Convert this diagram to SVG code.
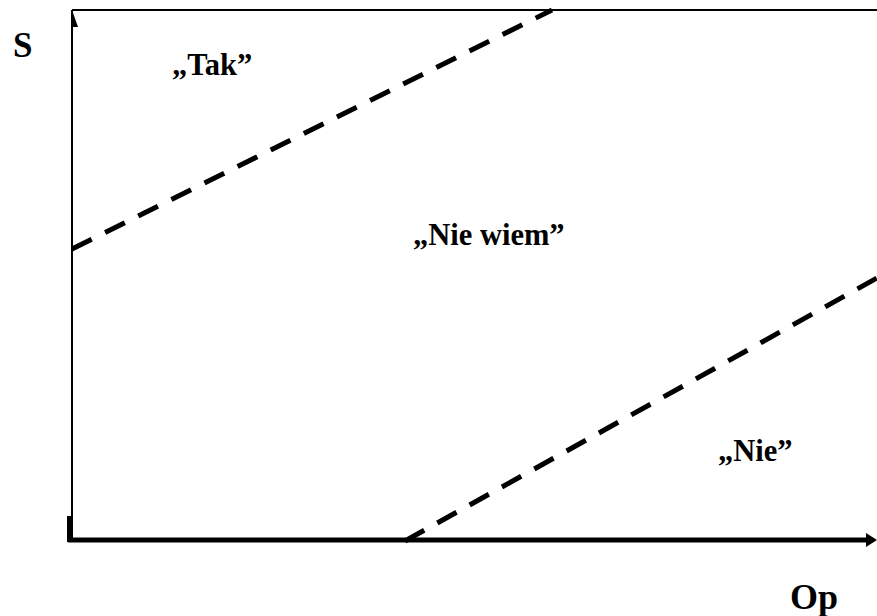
<svg xmlns="http://www.w3.org/2000/svg" width="877" height="616" viewBox="0 0 877 616">
<style>
text{font-family:"Liberation Serif","Times New Roman",serif;font-weight:bold;fill:#000}
.lbl{font-size:30.5px}
.dash{stroke:#000;stroke-width:5;stroke-dasharray:22 15;fill:none}
</style>
<rect width="877" height="616" fill="#fff"/>
<g id="frame">
<line x1="72" y1="10" x2="877" y2="10" stroke="#000" stroke-width="2"/>
<line x1="72" y1="10" x2="72" y2="540" stroke="#000" stroke-width="2"/>
<polygon points="72,10 78,27 72,27" fill="#000"/>
<line x1="68" y1="540" x2="870" y2="540" stroke="#000" stroke-width="5"/>
<polygon points="866,533 877,540 866,547" fill="#000"/>
<line x1="69" y1="516" x2="69" y2="542" stroke="#000" stroke-width="4"/>
</g>
<g id="connectors">
<line class="dash" x1="72" y1="249" x2="552" y2="10"/>
<line class="dash" x1="405" y1="541" x2="877" y2="278"/>
</g>
<g id="labels">
<text x="13" y="57" font-size="35">S</text>
<text x="790" y="609" font-size="36">Op</text>
<text class="lbl" x="172" y="75">„Tak”</text>
<text class="lbl" x="413" y="245">„Nie wiem”</text>
<text class="lbl" x="718" y="461">„Nie”</text>
</g>
</svg>
